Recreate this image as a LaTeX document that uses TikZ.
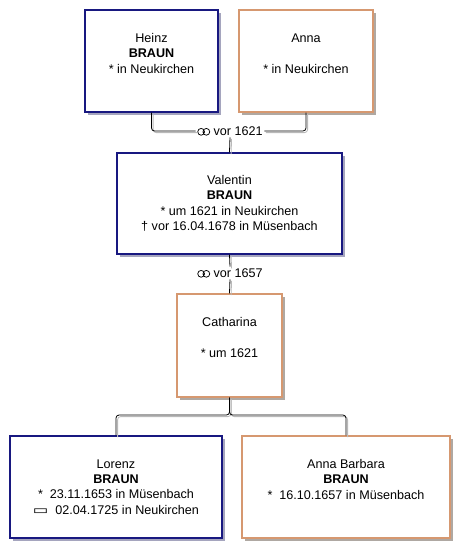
\documentclass[tikz,border=0pt]{standalone}
\usepackage{fontspec}
\setmainfont{Liberation Sans}
\newfontfamily\symfont{DejaVu Sans}
\usepackage{tikz}
\usetikzlibrary{shadows,calc}

\definecolor{manblue}{RGB}{24,24,128}
\definecolor{womanorange}{RGB}{214,152,112}
\definecolor{manshade}{RGB}{165,165,190}
\definecolor{womanshade}{RGB}{175,168,162}
\newcommand{\marr}{\tikz[baseline={(0,-3.4pt)}, x=1pt, y=1pt]
  \draw[line width=0.75pt] (3.4,0) circle (3.4) (8.6,0) circle (3.4);}
\newcommand{\burial}{\scalebox{1.3}[1]{\symfont\char"25AD}}
\newcommand{\blankline}{\vphantom{A}}

\begin{document}
\begin{tikzpicture}[
    x=1pt, y=-1pt,
    box/.style={draw, line width=1.2pt, fill=white, align=center, inner sep=0pt,
      font=\fontsize{12.6}{15.4}\selectfont},
    man/.style={box, draw=manblue,
      drop shadow={shadow xshift=3pt, shadow yshift=-3pt, fill=manshade, opacity=1}},
    woman/.style={box, draw=womanorange,
      drop shadow={shadow xshift=3pt, shadow yshift=-3pt, fill=womanshade, opacity=1}},
    link/.style={draw=black, line width=0.8pt, rounded corners=3pt},
    linkshade/.style={draw=gray!55, line width=0.8pt, rounded corners=3pt,
      transform canvas={shift={(1.6pt,-1.6pt)}}},
    marriage/.style={fill=white, inner sep=1.5pt, font=\fontsize{12.6}{14}\selectfont}
  ]
    \useasboundingbox (0,0) rectangle (469,558);

    % parents
    \node[man, minimum width=133pt, minimum height=102pt] (heinz) at (151.5,61)
      {Heinz\\\textbf{BRAUN}\\* in Neukirchen\\\blankline};
    \node[woman, minimum width=134pt, minimum height=102pt] (anna) at (306,61)
      {Anna\\\blankline\\* in Neukirchen\\\blankline};
    \node[marriage] (m1) at (230,131) {\marr{} vor 1621};

    % Valentin and wife
    \node[man, minimum width=225pt, minimum height=101pt] (valentin) at (229.5,203.5)
      {Valentin\\\textbf{BRAUN}\\* um 1621 in Neukirchen\\† vor 16.04.1678 in Müsenbach};
    \node[woman, minimum width=105pt, minimum height=103pt] (catharina) at (229.5,345.5)
      {Catharina\\\blankline\\* um 1621\\\blankline};
    \node[marriage] (m2) at (230,273) {\marr{} vor 1657};

    % children
    \node[man, minimum width=212pt, minimum height=102pt] (lorenz) at (116,487)
      {Lorenz\\\textbf{BRAUN}\\*\ \ 23.11.1653 in Müsenbach\\\burial\ \ 02.04.1725 in Neukirchen};
    \node[woman, minimum width=208pt, minimum height=102pt] (annab) at (346,487)
      {Anna Barbara\\\textbf{BRAUN}\\*\ \ 16.10.1657 in Müsenbach\\\blankline};
    \coordinate (fork) at (229.5,415);

    % connectors
    \foreach \s in {linkshade, link} {
      \draw[\s] (heinz.south) |- (m1.west);
      \draw[\s] (m1.east) -| (anna.south);
      \draw[\s] (m1.south) -- (valentin.north);
      \draw[\s] (valentin.south) -- (m2.north);
      \draw[\s] (m2.south) -- (catharina.north);
      \draw[\s] (catharina.south) -- (fork) -| (lorenz.north);
      \draw[\s] (catharina.south) -- (fork) -| (annab.north);
    }
  \end{tikzpicture}
\end{document}
